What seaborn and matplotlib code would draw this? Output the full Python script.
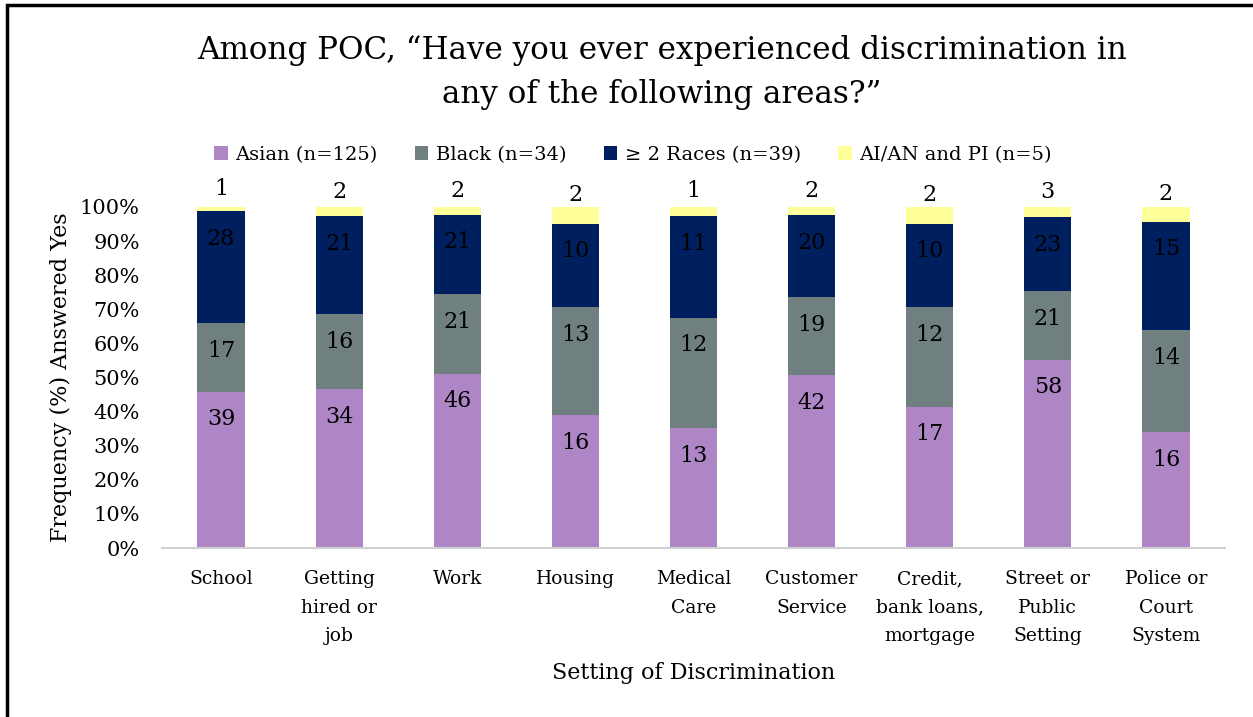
import matplotlib
matplotlib.use("Agg")
import matplotlib.pyplot as plt
import numpy as np
import pandas as pd
import seaborn as sns
from matplotlib.patches import Rectangle, Patch

# Respondent counts per setting and race group
settings = ["School", "Getting\nhired or\njob", "Work", "Housing", "Medical\nCare",
            "Customer\nService", "Credit,\nbank loans,\nmortgage", "Street or\nPublic\nSetting",
            "Police or\nCourt\nSystem"]
asian = [39, 34, 46, 16, 13, 42, 17, 58, 16]
black = [17, 16, 21, 13, 12, 19, 12, 21, 14]
multi = [28, 21, 21, 10, 11, 20, 10, 23, 15]
aian_pi = [1, 2, 2, 2, 1, 2, 2, 3, 2]

groups = ["Asian (n=125)", "Black (n=34)", "\u2265 2 Races (n=39)", "AI/AN and PI (n=5)"]
colors = ["#AE86C6", "#707F80", "#001F5F", "#FFFF99"]
y_ticks = [0, 10, 20, 30, 40, 50, 60, 70, 80, 90, 100]

sns.set_theme(style="white")
plt.rcParams["font.family"] = ["DejaVu Serif"]
plt.rcParams["text.color"] = "black"
plt.rcParams["axes.labelcolor"] = "black"
plt.rcParams["xtick.color"] = "black"
plt.rcParams["ytick.color"] = "black"

counts = np.array([asian, black, multi, aian_pi], dtype=float)
totals = counts.sum(axis=0)
shares = counts / totals
cum = np.cumsum(shares, axis=0)
starts = cum - shares

fig = plt.figure(figsize=(12.53, 7.17), dpi=100)
ax = fig.add_axes([162 / 1253, 1 - 548 / 717, (1225 - 162) / 1253, (548 - 207) / 717])

# Stack by overdrawing cumulative heights, topmost layer first
for i in range(3, -1, -1):
    df = pd.DataFrame({"setting": settings, "value": cum[i]})
    sns.barplot(data=df, x="setting", y="value", color=colors[i], width=0.4,
                saturation=1, ax=ax, linewidth=0, errorbar=None)

# Count labels just inside the top of each segment; the thin top layer is labelled above
for j in range(len(settings)):
    for i in range(3):
        ax.annotate(f"{int(counts[i, j])}", xy=(j, cum[i, j]),
                    xytext=(0, -20), textcoords="offset points",
                    ha="center", va="center", fontsize=16, color="black")
    ax.annotate(f"{int(counts[3, j])}", xy=(j, starts[3, j] + shares[3, j] / 2),
                xytext=(0, 14.5), textcoords="offset points", ha="center", va="center",
                fontsize=16, color="black")

ax.set_ylim(0, 1)
ax.set_xlim(-0.5, len(settings) - 0.5)
ax.set_yticks([t / 100 for t in y_ticks])
ax.set_yticklabels([f"{t}%" for t in y_ticks], fontsize=15)
ax.set_xticks(range(len(settings)))
ax.set_xticklabels(settings, fontsize=13.5, linespacing=1.75)
ax.tick_params(axis="x", length=0, pad=16)
ax.tick_params(axis="y", length=0, pad=16)
for s in ["top", "right", "left"]:
    ax.spines[s].set_visible(False)
ax.spines["bottom"].set_color("#D0D0D0")
ax.spines["bottom"].set_linewidth(1.5)
ax.set_xlabel("Setting of Discrimination", fontsize=16, labelpad=12)
ax.set_ylabel("Frequency (%) Answered Yes", fontsize=16, labelpad=6)

fig.text(0.528, 1 - 50 / 717, "Among POC, \u201cHave you ever experienced discrimination in",
         ha="center", va="center", fontsize=22.3)
fig.text(0.528, 1 - 95 / 717, "any of the following areas?\u201d",
         ha="center", va="center", fontsize=22.3)

handles = [Patch(facecolor=c, edgecolor="none") for c in colors]
fig.legend(handles, groups, loc="center", bbox_to_anchor=(633 / 1253, 1 - 155 / 717),
           ncol=4, frameon=False, fontsize=14, handlelength=0.7, handleheight=0.7,
           handletextpad=0.4, columnspacing=1.9)

# Outer frame
fig.patches.append(Rectangle((7 / 1253, -0.05), 1.1, 1 - 5 / 717 + 0.05,
                             transform=fig.transFigure, fill=False,
                             edgecolor="black", linewidth=2.5, zorder=10))

fig.savefig("out.png", dpi=100, facecolor="white")
